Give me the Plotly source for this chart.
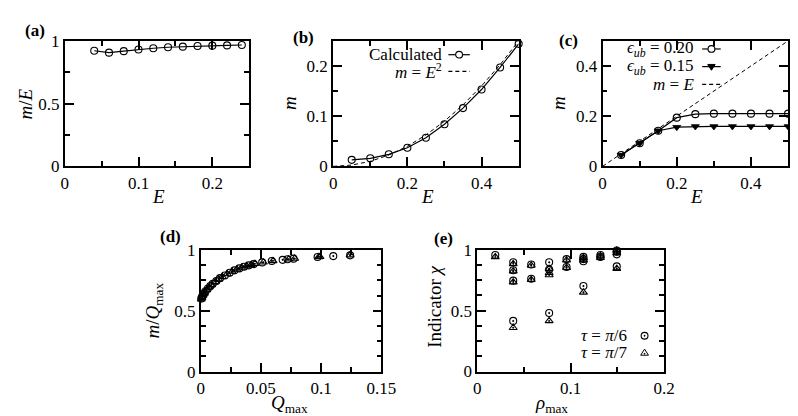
import plotly.graph_objects as go

# ---------------- data ----------------
# (a)
E_a = [0.04, 0.06, 0.08, 0.10, 0.12, 0.14, 0.16, 0.18, 0.20, 0.22, 0.24]
mE_a = [0.921, 0.906, 0.918, 0.931, 0.941, 0.949, 0.954, 0.959, 0.962, 0.964, 0.967]
# (b)
E_b = [0.05, 0.10, 0.15, 0.20, 0.25, 0.30, 0.35, 0.40, 0.45, 0.50]
m_b = [0.013, 0.016, 0.024, 0.037, 0.057, 0.084, 0.116, 0.153, 0.197, 0.244]
E_sq = [0.0, 0.05, 0.10, 0.15, 0.20, 0.25, 0.30, 0.35, 0.40, 0.45, 0.50]
m_sq = [0.0, 0.0025, 0.01, 0.0225, 0.04, 0.0625, 0.09, 0.1225, 0.16, 0.2025, 0.25]
# (c)
E_c = [0.05, 0.10, 0.15, 0.20, 0.25, 0.30, 0.35, 0.40, 0.45, 0.50]
m_c20 = [0.045, 0.092, 0.142, 0.194, 0.208, 0.210, 0.210, 0.210, 0.210, 0.210]
m_c15 = [0.045, 0.092, 0.142, 0.156, 0.159, 0.159, 0.159, 0.159, 0.159, 0.159]
E_lin = [0.0, 0.5]
m_lin = [0.0, 0.5]
# (d)
Q_d6 = [0.0005, 0.001, 0.0015, 0.002, 0.003, 0.004, 0.006, 0.008, 0.010, 0.013, 0.016,
        0.020, 0.024, 0.028, 0.032, 0.036, 0.040, 0.044, 0.051, 0.059, 0.068, 0.072,
        0.077, 0.097, 0.110, 0.124]
r_d6 = [0.600, 0.610, 0.620, 0.628, 0.645, 0.660, 0.683, 0.703, 0.722, 0.745, 0.768,
        0.790, 0.812, 0.832, 0.848, 0.862, 0.873, 0.883, 0.897, 0.909, 0.918, 0.923,
        0.928, 0.942, 0.949, 0.955]
Q_d7 = [0.0005, 0.001, 0.002, 0.003, 0.005, 0.007, 0.009, 0.012, 0.015, 0.018, 0.022,
        0.026, 0.030, 0.034, 0.038, 0.042, 0.045, 0.052, 0.060, 0.073, 0.078, 0.098,
        0.099, 0.124]
r_d7 = [0.595, 0.607, 0.627, 0.643, 0.672, 0.694, 0.713, 0.738, 0.760, 0.779, 0.802,
        0.822, 0.840, 0.855, 0.868, 0.879, 0.886, 0.898, 0.910, 0.923, 0.929, 0.942,
        0.943, 0.957]
# (e)
rho_e6 = [0.0192, 0.0384, 0.0384, 0.0384, 0.0384, 0.0577, 0.0577, 0.0769, 0.0769, 0.0769,
          0.0955, 0.0955, 0.1136, 0.1136, 0.1136, 0.1136, 0.1318, 0.1318,
          0.1493, 0.1493, 0.1493, 0.1493]
chi_e6 = [0.958, 0.898, 0.833, 0.747, 0.416, 0.880, 0.763, 0.898, 0.838, 0.481,
          0.924, 0.859, 0.942, 0.924, 0.906, 0.703, 0.958, 0.942,
          0.995, 0.984, 0.963, 0.864]
rho_e7 = [0.0192, 0.0384, 0.0384, 0.0384, 0.0384, 0.0577, 0.0577, 0.0769, 0.0769, 0.0769,
          0.0769, 0.0955, 0.0955, 0.1136, 0.1136, 0.1136, 0.1318, 0.1318,
          0.1493, 0.1493, 0.1493]
chi_e7 = [0.942, 0.885, 0.825, 0.735, 0.360, 0.872, 0.755, 0.846, 0.812, 0.794,
          0.416, 0.916, 0.854, 0.935, 0.916, 0.651, 0.950, 0.935,
          0.995, 0.974, 0.846]

# ---------------- layout helpers ----------------
W, H = 798, 416
FONT = "'Liberation Serif', 'DejaVu Serif', 'Times New Roman', serif"


def px(x):
    return x / W


def py(y):
    return 1 - y / H


def axis(dom, rng, tickvals, minor_dtick, anchor):
    return dict(
        domain=dom, range=rng, anchor=anchor,
        showline=True, linecolor="black", linewidth=1.8, mirror="ticks",
        ticks="inside", ticklen=9, tickwidth=1.5, tickcolor="black",
        tickmode="array", tickvals=tickvals,
        minor=dict(tickmode="linear", tick0=0, dtick=minor_dtick, ticks="inside",
                   ticklen=5, tickwidth=1.5, tickcolor="black"),
        showgrid=False, zeroline=False,
        tickfont=dict(family=FONT, size=17, color="black"),
    )


boxes = {
    1: ((54, 243), (25, 156.5)),
    2: ((329, 519), (25, 156.5)),
    3: ((605, 795), (25, 156.5)),
    4: ((193.3, 378.5), (244, 371.7)),
    5: ((476.7, 668), (244, 371.5)),
}


def xdom(i):
    a, b = boxes[i][0]
    return [px(a), px(b)]


def ydom(i):
    a, b = boxes[i][1]
    return [py(b), py(a)]


fig = go.Figure()

line_style = dict(color="black", width=1.2)
circ = dict(symbol="circle-open", size=7, color="black", line=dict(width=1.1, color="black"))
circdot = dict(symbol="circle-open-dot", size=7, color="black", line=dict(width=1.1, color="black"))
tri_dn = dict(symbol="triangle-down", size=7, color="black", line=dict(width=0.8, color="black"))
tri_up = dict(symbol="triangle-up-open-dot", size=7, color="black", line=dict(width=1.1, color="black"))

# (a)
fig.add_trace(go.Scatter(x=E_a, y=mE_a, mode="lines+markers", line=line_style, marker=circ,
                         xaxis="x", yaxis="y", cliponaxis=False, showlegend=False))
# (b)
fig.add_trace(go.Scatter(x=E_b, y=m_b, mode="lines+markers", line=line_style, marker=circ,
                         xaxis="x2", yaxis="y2", cliponaxis=False, showlegend=False))
fig.add_trace(go.Scatter(x=E_sq, y=m_sq, mode="lines", line=dict(color="black", width=1, dash="4px,3px"),
                         xaxis="x2", yaxis="y2", showlegend=False))
# (c)
fig.add_trace(go.Scatter(x=E_c, y=m_c20, mode="lines+markers", line=line_style, marker=circ,
                         xaxis="x3", yaxis="y3", cliponaxis=False, showlegend=False))
fig.add_trace(go.Scatter(x=E_c, y=m_c15, mode="lines+markers", line=line_style, marker=tri_dn,
                         xaxis="x3", yaxis="y3", cliponaxis=False, showlegend=False))
fig.add_trace(go.Scatter(x=E_lin, y=m_lin, mode="lines", line=dict(color="black", width=1, dash="4px,3px"),
                         xaxis="x3", yaxis="y3", showlegend=False))
# (d)
fig.add_trace(go.Scatter(x=Q_d6, y=r_d6, mode="markers", marker=circdot,
                         xaxis="x4", yaxis="y4", cliponaxis=False, showlegend=False))
fig.add_trace(go.Scatter(x=Q_d7, y=r_d7, mode="markers", marker=tri_up,
                         xaxis="x4", yaxis="y4", cliponaxis=False, showlegend=False))
# (e)
fig.add_trace(go.Scatter(x=rho_e6, y=chi_e6, mode="markers", marker=circdot,
                         xaxis="x5", yaxis="y5", cliponaxis=False, showlegend=False))
fig.add_trace(go.Scatter(x=rho_e7, y=chi_e7, mode="markers", marker=tri_up,
                         xaxis="x5", yaxis="y5", cliponaxis=False, showlegend=False))

fig.update_layout(
    width=W, height=H, margin=dict(l=0, r=0, t=0, b=0),
    paper_bgcolor="white", plot_bgcolor="white", showlegend=False,
    font=dict(family=FONT, color="black"),
    xaxis=axis(xdom(1), [0, 0.25], [0, 0.1, 0.2], 0.05, "y"),
    yaxis=axis(ydom(1), [0, 1], [0, 0.5, 1], 0.25, "x"),
    xaxis2=axis(xdom(2), [0, 0.5], [0, 0.2, 0.4], 0.1, "y2"),
    yaxis2=axis(ydom(2), [0, 0.25], [0, 0.1, 0.2], 0.05, "x2"),
    xaxis3=axis(xdom(3), [0, 0.5], [0, 0.2, 0.4], 0.1, "y3"),
    yaxis3=axis(ydom(3), [0, 0.5], [0, 0.2, 0.4], 0.1, "x3"),
    xaxis4=axis(xdom(4), [0, 0.15], [0, 0.05, 0.1, 0.15], 0.025, "y4"),
    yaxis4=axis(ydom(4), [0, 1], [0, 0.5, 1], 0.125, "x4"),
    xaxis5=axis(xdom(5), [0, 0.2], [0, 0.1, 0.2], 0.05, "y5"),
    yaxis5=axis(ydom(5), [0, 1], [0, 0.5, 1], 0.125, "x5"),
)

ann = []


def text(x, y, s, size=18, xanchor="center", angle=0, bold=False):
    if bold:
        s = "<b>" + s + "</b>"
    ann.append(dict(x=px(x), y=py(y), xref="paper", yref="paper", text=s, showarrow=False,
                    xanchor=xanchor, yanchor="middle", textangle=angle,
                    font=dict(family=FONT, size=size, color="black")))


# panel labels
text(24, 14, "(a)", 17, bold=True)
text(298.5, 21, "(b)", 17, bold=True)
text(570, 25, "(c)", 17, bold=True)
text(162.5, 230, "(d)", 17, bold=True)
text(441.7, 232, "(e)", 17, bold=True)

# axis titles
text(14, 91, "<i>m</i>/<i>E</i>", 19, angle=-90)
text(150, 188, "<i>E</i>", 19)
text(285, 90, "<i>m</i>", 19, angle=-90)
text(426, 188, "<i>E</i>", 19)
text(560.5, 90, "<i>m</i>", 19, angle=-90)
text(701, 188, "<i>E</i>", 19)
text(145, 308, "<i>m</i>/<i>Q</i><sub>max</sub>", 19, angle=-90)
text(284, 406, "<i>Q</i><sub>max</sub>", 19)
text(432, 304, "Indicator <i>χ</i>", 19, angle=-90)
text(553, 406, "<i>ρ</i><sub>max</sub>", 19)

# legend texts
text(443, 39.5, "Calculated", 17, xanchor="right")
text(443, 57, "<i>m</i> = <i>E</i><sup>2</sup>", 17, xanchor="right")
text(701, 33.5, "<i>ϵ<sub>ub</sub></i> = 0.20", 17, xanchor="right")
text(701, 52, "<i>ϵ<sub>ub</sub></i> = 0.15", 17, xanchor="right")
text(701, 70.5, "<i>m</i> = <i>E</i>", 17, xanchor="right")
text(632, 334, "<i>τ</i> = <i>π</i>/6", 17, xanchor="right")
text(632, 352, "<i>τ</i> = <i>π</i>/7", 17, xanchor="right")

fig.update_layout(annotations=ann)

# legend sample shapes (decoration, in paper coordinates)
shapes = []


def hline(x0, x1, y, dash="solid"):
    shapes.append(dict(type="line", xref="paper", yref="paper", x0=px(x0), x1=px(x1),
                       y0=py(y), y1=py(y), line=dict(color="black", width=1.2, dash=dash)))


def circle(cx, cy, r, fill=False, lw=1.1):
    shapes.append(dict(type="circle", xref="paper", yref="paper",
                       x0=px(cx - r), x1=px(cx + r), y0=py(cy + r), y1=py(cy - r),
                       fillcolor="black" if fill else "white",
                       line=dict(color="black", width=lw)))


def triangle(cx, cy, r, down=True, fill=True, dot=False):
    if down:
        pts = [(cx - r, cy - r * 0.6), (cx + r, cy - r * 0.6), (cx, cy + r)]
    else:
        pts = [(cx - r, cy + r * 0.6), (cx + r, cy + r * 0.6), (cx, cy - r)]
    path = "M " + " L ".join(f"{px(a)},{py(b)}" for a, b in pts) + " Z"
    shapes.append(dict(type="path", xref="paper", yref="paper", path=path,
                       fillcolor="black" if fill else "white",
                       line=dict(color="black", width=1.0)))
    if dot:
        circle(cx, cy + (0.2 * r if not down else -0.2 * r), 0.6, fill=True, lw=0.5)


# (b)
hline(447, 469, 39.5)
circle(458, 39.5, 3.5)
hline(447, 469, 57, dash="4px,3px")
# (c)
hline(707, 726, 33.5)
circle(716.5, 33.5, 3.5)
hline(707, 726, 52)
triangle(716.5, 52, 3.8, down=True, fill=True)
hline(707, 726, 70.5, dash="4px,3px")
# (e)
circle(648, 334, 3.5)
circle(648, 334, 0.7, fill=True, lw=0.5)
triangle(648, 352, 4.0, down=False, fill=False, dot=True)

fig.update_layout(shapes=shapes)

fig.write_html("out.html")
